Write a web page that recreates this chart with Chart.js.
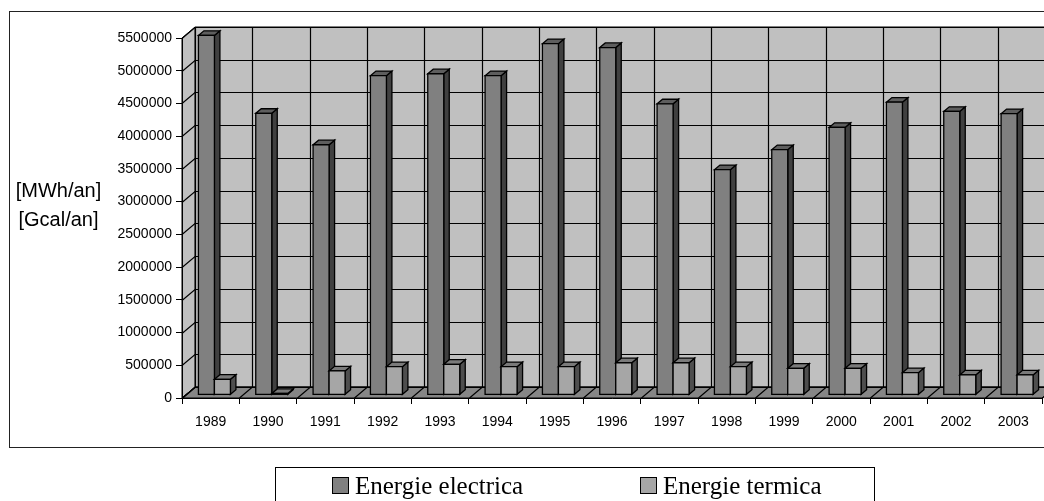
<!DOCTYPE html>
<html>
<head>
<meta charset="utf-8">
<script src="https://cdn.jsdelivr.net/npm/chart.js@4.4.1/dist/chart.umd.min.js"></script>
<style>
  html, body { margin: 0; padding: 0; background: #fff; overflow: hidden; }
  canvas { display: block; }
</style>
</head>
<body>
<canvas id="c" width="1044" height="501"></canvas>
<script>
// Annual production, 1989-2003
const years = ['1989', '1990', '1991', '1992', '1993', '1994', '1995', '1996',
               '1997', '1998', '1999', '2000', '2001', '2002', '2003'];
const energieElectrica = [5490000, 4300000, 3820000, 4875000, 4905000, 4875000, 5365000, 5305000,
                          4445000, 3440000, 3745000, 4085000, 4470000, 4330000, 4295000];
const energieTermica = [237000, 20000, 364000, 430000, 466000, 430000, 430000, 490000,
                        490000, 430000, 405000, 405000, 338000, 303000, 303000];
const seriesNames = ['Energie electrica', 'Energie termica'];
const axisTitleLines = ['[MWh/an]', '[Gcal/an]'];
const yMax = 5500000;
const yStep = 500000;

const SANS = 'Arial, "Liberation Sans", sans-serif';
const SERIF = '"Times New Roman", "Liberation Serif", serif';

// shading of each series: front face, right side, top
const shades = [
  { front: '#808080', side: '#404040', top: '#5e5e5e' },
  { front: '#a6a6a6', side: '#4e4e4e', top: '#7a7a7a' }
];
const WALL = '#c0c0c0';
const FLOOR = '#868686';
// depth of the box (back wall relative to front plane) and of each column
const DEPTH = { dx: 13, dy: -11 };
const COL = { fx: 3.75, fy: -3.2, dx: 5.5, dy: -4.6 };

function poly(ctx, pts, fill) {
  ctx.beginPath();
  ctx.moveTo(pts[0][0], pts[0][1]);
  for (let i = 1; i < pts.length; i++) ctx.lineTo(pts[i][0], pts[i][1]);
  ctx.closePath();
  if (fill) { ctx.fillStyle = fill; ctx.fill(); }
  ctx.stroke();
}

const boxPlugin = {
  id: 'box3d',
  beforeDraw(chart) {
    const ctx = chart.ctx;
    const xs = chart.scales.x, ys = chart.scales.y;
    const L = xs.left, R = xs.right;
    const yTop = ys.getPixelForValue(yMax), yBot = ys.getPixelForValue(0);
    const { dx, dy } = DEPTH;
    ctx.save();
    ctx.fillStyle = '#fff';
    ctx.fillRect(0, 0, chart.width, chart.height);

    // outer frame of the chart
    ctx.strokeStyle = '#222';
    ctx.lineWidth = 1;
    ctx.strokeRect(9.5, 11.5, 1200, 436);

    // y-axis title
    ctx.fillStyle = '#000';
    ctx.font = '20px ' + SANS;
    ctx.textAlign = 'center';
    ctx.textBaseline = 'middle';
    ctx.fillText(axisTitleLines[0], 58.5, 191);
    ctx.fillText(axisTitleLines[1], 58.5, 220);

    ctx.strokeStyle = '#000';
    ctx.lineWidth = 1;
    // back wall
    poly(ctx, [[L + dx, yTop + dy], [R + dx + 40, yTop + dy], [R + dx + 40, yBot + dy], [L + dx, yBot + dy]], WALL);
    // left wall
    poly(ctx, [[L, yTop], [L + dx, yTop + dy], [L + dx, yBot + dy], [L, yBot]], WALL);
    // floor
    poly(ctx, [[L, yBot], [L + dx, yBot + dy], [R + dx, yBot + dy], [R, yBot]], FLOOR);

    // value gridlines: back wall + left wall diagonals
    ctx.lineWidth = 1.2;
    for (let v = 0; v <= yMax; v += yStep) {
      const py = Math.round(ys.getPixelForValue(v)) + 0.5;
      ctx.beginPath();
      ctx.moveTo(L, py);
      ctx.lineTo(L + dx, py + dy);
      ctx.lineTo(R + dx + 40, py + dy);
      ctx.stroke();
    }
    // category gridlines: back wall verticals + floor diagonals
    const cw = (R - L) / years.length;
    for (let i = 0; i <= years.length; i++) {
      const bx = Math.round(L + i * cw) + 0.5;
      ctx.beginPath();
      ctx.moveTo(bx, yBot);
      ctx.lineTo(bx + dx, yBot + dy);
      ctx.lineTo(bx + dx, yTop + dy);
      ctx.stroke();
    }
    ctx.restore();
  },
  beforeDatasetDraw() {
    return false; // columns are drawn as solid boxes below
  },
  afterDatasetsDraw(chart) {
    const ctx = chart.ctx;
    const metas = [chart.getDatasetMeta(0), chart.getDatasetMeta(1)];
    ctx.save();
    ctx.strokeStyle = '#000';
    ctx.lineWidth = 1.3;
    ctx.lineJoin = 'miter';
    for (let i = 0; i < years.length; i++) {
      metas.forEach((meta, d) => {
        const el = meta.data[i];
        const l = el.x - el.width / 2 + COL.fx;
        const r = el.x + el.width / 2 + COL.fx;
        const t = el.y + COL.fy;
        const b = el.base + COL.fy;
        const s = shades[d];
        poly(ctx, [[r, t], [r + COL.dx, t + COL.dy], [r + COL.dx, b + COL.dy], [r, b]], s.side);
        poly(ctx, [[l, t], [l + COL.dx, t + COL.dy], [r + COL.dx, t + COL.dy], [r, t]], s.top);
        poly(ctx, [[l, t], [r, t], [r, b], [l, b]], s.front);
      });
    }
    ctx.restore();
  },
  afterDraw(chart) {
    // legend box
    const ctx = chart.ctx;
    ctx.save();
    ctx.strokeStyle = '#000';
    ctx.lineWidth = 1;
    ctx.strokeRect(275.5, 467.5, 599, 60);
    const items = [{ x: 332, text: seriesNames[0], color: shades[0].front },
                   { x: 640, text: seriesNames[1], color: shades[1].front }];
    ctx.font = '25px ' + SERIF;
    ctx.textAlign = 'left';
    ctx.textBaseline = 'alphabetic';
    items.forEach(it => {
      ctx.fillStyle = it.color;
      ctx.fillRect(it.x + 0.5, 477.5, 16, 16);
      ctx.strokeRect(it.x + 0.5, 477.5, 16, 16);
      ctx.fillStyle = '#000';
      ctx.fillText(it.text, it.x + 23, 494);
    });
    ctx.restore();
  }
};

new Chart(document.getElementById('c'), {
  type: 'bar',
  data: {
    labels: years,
    datasets: [
      { label: seriesNames[0], data: energieElectrica, backgroundColor: shades[0].front,
        categoryPercentage: 0.558, barPercentage: 1.0 },
      { label: seriesNames[1], data: energieTermica, backgroundColor: shades[1].front,
        categoryPercentage: 0.558, barPercentage: 1.0 }
    ]
  },
  options: {
    responsive: false,
    animation: false,
    devicePixelRatio: 1,
    layout: { padding: { left: 0, right: 2, top: 38, bottom: 0 } },
    plugins: { legend: { display: false }, tooltip: { enabled: false } },
    scales: {
      x: {
        offset: true,
        grid: { display: true, drawOnChartArea: false, offset: true, tickLength: 6, color: '#000' },
        border: { display: true, color: '#000', width: 1 },
        ticks: { color: '#000', font: { family: SANS, size: 14 }, padding: 10, maxRotation: 0, autoSkip: false },
        afterFit(scale) { scale.height = 103; }
      },
      y: {
        min: 0,
        max: yMax,
        grid: { display: true, drawOnChartArea: false, tickLength: 6, color: '#000' },
        border: { display: true, color: '#000', width: 1 },
        ticks: { stepSize: yStep, color: '#000', font: { family: SANS, size: 14 }, padding: 4,
                 callback: v => String(v) },
        afterFit(scale) { scale.width = 182; }
      }
    }
  },
  plugins: [boxPlugin]
});
</script>
</body>
</html>
